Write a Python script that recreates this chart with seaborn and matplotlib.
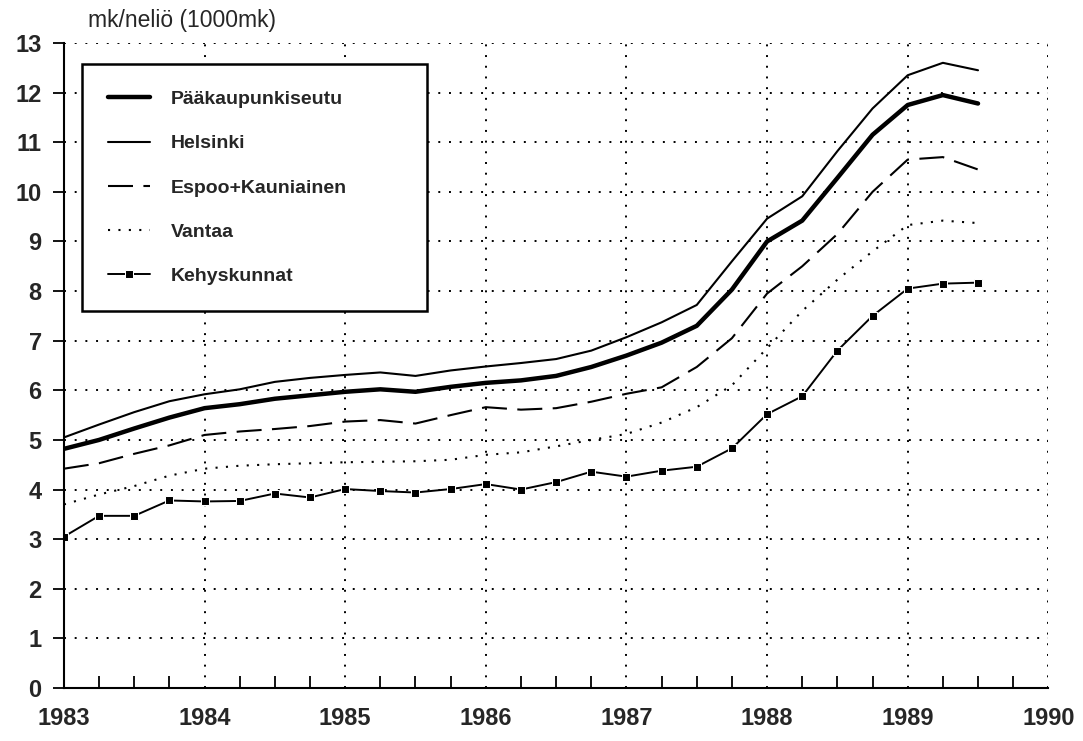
import numpy as np
import pandas as pd
import seaborn as sns
import matplotlib.pyplot as plt
from matplotlib.ticker import MultipleLocator

# quarterly observations 1983 Q1 .. 1989 Q3
quarters = np.arange(1983, 1989.51, 0.25)

paakaupunkiseutu = [4.82, 5.00, 5.23, 5.45, 5.64, 5.72, 5.83, 5.90,
                    5.97, 6.02, 5.97, 6.07, 6.15, 6.20, 6.29, 6.47,
                    6.70, 6.96, 7.30, 8.03, 9.00, 9.42, 10.28, 11.15,
                    11.75, 11.95, 11.78]
helsinki = [5.05, 5.31, 5.56, 5.78, 5.92, 6.02, 6.17, 6.25,
            6.31, 6.36, 6.29, 6.40, 6.48, 6.55, 6.63, 6.80,
            7.07, 7.37, 7.72, 8.60, 9.46, 9.91, 10.82, 11.68,
            12.35, 12.60, 12.45]
espoo = [4.42, 4.53, 4.72, 4.89, 5.10, 5.17, 5.22, 5.28,
         5.37, 5.40, 5.33, 5.50, 5.66, 5.61, 5.64, 5.77,
         5.93, 6.06, 6.47, 7.05, 7.95, 8.50, 9.15, 10.00,
         10.65, 10.70, 10.45]
vantaa = [3.70, 3.90, 4.07, 4.28, 4.42, 4.48, 4.51, 4.53,
          4.55, 4.56, 4.57, 4.60, 4.70, 4.75, 4.87, 5.00,
          5.12, 5.35, 5.66, 6.10, 6.85, 7.60, 8.23, 8.80,
          9.33, 9.42, 9.37]
kehyskunnat = [3.05, 3.47, 3.47, 3.78, 3.76, 3.77, 3.92, 3.84,
               4.01, 3.97, 3.94, 4.01, 4.11, 4.00, 4.15, 4.36,
               4.26, 4.38, 4.46, 4.83, 5.52, 5.88, 6.80, 7.50,
               8.05, 8.15, 8.17]

names = ["Pääkaupunkiseutu", "Helsinki", "Espoo+Kauniainen", "Vantaa", "Kehyskunnat"]
series = [paakaupunkiseutu, helsinki, espoo, vantaa, kehyskunnat]

sns.set_theme(style="white")
plt.rcParams["font.family"] = ["Liberation Sans", "DejaVu Sans"]

fig = plt.figure(figsize=(10.83, 7.41), dpi=100)
ax = fig.add_axes([0.059, 0.0715, 0.909, 0.8705])

styles = {
    "Pääkaupunkiseutu": dict(lw=3.2),
    "Helsinki": dict(lw=1.5),
    "Espoo+Kauniainen": dict(lw=1.5, dashes=(12, 5)),
    "Vantaa": dict(lw=1.5, dashes=(1, 4)),
    "Kehyskunnat": dict(lw=1.4, marker="s", markersize=6),
}

for name, vals in zip(names, series):
    df = pd.DataFrame({"year": quarters, "value": vals})
    st = dict(styles[name])
    dashes = st.pop("dashes", None)
    sns.lineplot(data=df, x="year", y="value", ax=ax, color="black",
                 label=name, **st)
    if dashes is not None:
        ax.lines[-1].set_dashes(dashes)

ax.set_xlim(1983, 1990)
ax.set_ylim(0, 13)
ax.xaxis.set_major_locator(MultipleLocator(1))
ax.xaxis.set_minor_locator(MultipleLocator(0.25))
ax.yaxis.set_major_locator(MultipleLocator(1))
ax.set_xlabel("")
ax.set_ylabel("")

ax.grid(True, which="major", color="black", linestyle=(0, (1, 4.5)), linewidth=1.4)
for s in ["top", "right"]:
    ax.spines[s].set_visible(False)
for s in ["left", "bottom"]:
    ax.spines[s].set_color("black")
    ax.spines[s].set_linewidth(1.5)

ax.tick_params(axis="x", which="major", direction="out", length=8, width=1.3,
               color="black", labelsize=17, pad=6)
ax.tick_params(axis="x", which="minor", direction="in", length=9, width=1.3,
               color="black", bottom=True)
ax.tick_params(axis="y", which="major", direction="out", length=8, width=1.3,
               color="black", labelsize=17, pad=8, left=True)
for lab in ax.get_xticklabels() + ax.get_yticklabels():
    lab.set_fontweight("bold")

fig.text(0.081, 0.972, "mk/neliö (1000mk)", fontsize=16.5, ha="left", va="center")

leg = ax.legend(loc="upper left", bbox_to_anchor=(0.018, 0.967, 0.351, 0.0),
                mode="expand", fontsize=14, frameon=True, fancybox=False,
                edgecolor="black", framealpha=1, borderpad=1.35, labelspacing=1.37,
                handlelength=2.15, handletextpad=1.1, borderaxespad=0,
                numpoints=1)
leg.get_frame().set_linewidth(1.8)
for t in leg.get_texts():
    t.set_fontweight("bold")

fig.savefig("out.png", dpi=100)
